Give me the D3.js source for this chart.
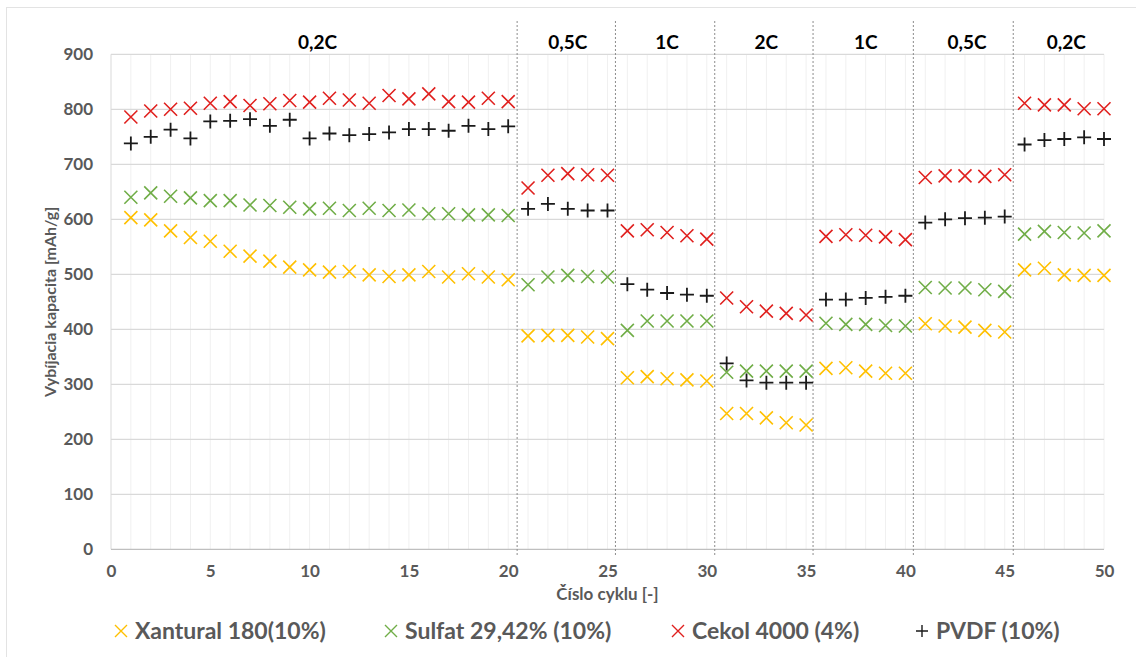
<!DOCTYPE html>
<html lang="sk">
<head>
<meta charset="UTF-8"/>
<title>Vybíjacia kapacita</title>
<script src="https://d3js.org/d3.v7.min.js"></script>
<style>
    body { margin: 0; background: #fff; }
    text { font-family: Lato, "Open Sans", sans-serif; font-weight: bold; }
</style>
</head>
<body>
<script>
// cycle numbers
var cycles = [1, 2, 3, 4, 5, 6, 7, 8, 9, 10, 11, 12, 13, 14, 15, 16, 17, 18, 19, 20,
    21, 22, 23, 24, 25, 26, 27, 28, 29, 30, 31, 32, 33, 34, 35, 36, 37, 38, 39, 40,
    41, 42, 43, 44, 45, 46, 47, 48, 49, 50];

// discharge capacity [mAh/g]
var xantural = [603, 599, 579, 567, 560, 542, 533, 524, 513, 508, 504, 505, 499, 496, 499, 505, 495, 501, 495, 490,
    388, 389, 389, 386, 383, 312, 314, 310, 308, 306, 247, 247, 239, 230, 226,
    329, 330, 324, 320, 320, 410, 406, 404, 398, 395, 508, 511, 499, 498, 498];
var sulfat = [640, 648, 642, 639, 634, 634, 626, 625, 622, 619, 620, 616, 620, 616, 617, 610, 610, 608, 608, 607,
    481, 495, 498, 496, 495, 398, 415, 415, 415, 415, 322, 324, 324, 324, 324,
    411, 409, 409, 407, 406, 476, 475, 475, 472, 469, 573, 578, 576, 575, 579];
var cekol = [786, 797, 800, 802, 811, 814, 807, 810, 816, 813, 820, 817, 811, 825, 819, 828, 814, 813, 820, 814,
    657, 680, 683, 681, 680, 579, 581, 576, 570, 564, 457, 441, 433, 429, 426,
    569, 572, 571, 568, 563, 676, 679, 679, 678, 681, 811, 808, 808, 801, 801];
var pvdf = [738, 750, 763, 747, 778, 779, 782, 770, 781, 747, 756, 753, 755, 758, 764, 764, 761, 770, 764, 769,
    619, 628, 619, 616, 616, 482, 472, 466, 463, 461, 338, 307, 303, 303, 303,
    454, 454, 457, 459, 461, 594, 600, 602, 603, 605, 736, 744, 746, 749, 746];

var seriesNames = ["Xantural 180(10%)", "Sulfat 29,42% (10%)", "Cekol 4000 (4%)", "PVDF (10%)"];
var seriesValues = [xantural, sulfat, cekol, pvdf];
var seriesColors = ["#ffc000", "#70ad47", "#e0201e", "#1a1a1a"];
var seriesMarks = ["x", "x", "x", "+"];

// C-rate sections
var rateLabels = ["0,2C", "0,5C", "1C", "2C", "1C", "0,5C", "0,2C"];
var rateLabelX = [10.4, 23.0, 28.0, 33.0, 38.0, 43.1, 48.1];
var rateBreaks = [20.45, 25.4, 30.4, 35.35, 40.4, 45.43];

var yTicks = [0, 100, 200, 300, 400, 500, 600, 700, 800, 900];
var xTicks = [0, 5, 10, 15, 20, 25, 30, 35, 40, 45, 50];

var w = 1136;
var h = 657;
var plotLeft = 111, plotRight = 1104, plotTop = 54.3, plotBottom = 549.3;

var xScale = d3.scaleLinear().domain([0, 50]).range([plotLeft, plotRight]);
var yScale = d3.scaleLinear().domain([0, 900]).range([plotBottom, plotTop]);

var svg = d3.select("body")
    .append("svg")
    .attr("width", w)
    .attr("height", h);

// outer frame
svg.append("rect")
    .attr("x", 6.5).attr("y", 7.5)
    .attr("width", w - 6).attr("height", h - 6)
    .attr("fill", "none")
    .attr("stroke", "#e3e3e3");

// light vertical grid, one per cycle
svg.append("g")
    .selectAll("line")
    .data(d3.range(0, 51))
    .enter()
    .append("line")
    .attr("x1", function (d) { return xScale(d); })
    .attr("x2", function (d) { return xScale(d); })
    .attr("y1", plotTop)
    .attr("y2", plotBottom)
    .attr("stroke", function (d) { return d === 0 ? "#d9d9d9" : "#f0f0f0"; })
    .attr("stroke-width", 1);

// horizontal grid
svg.append("g")
    .selectAll("line")
    .data(yTicks)
    .enter()
    .append("line")
    .attr("x1", plotLeft)
    .attr("x2", plotRight)
    .attr("y1", function (d) { return yScale(d); })
    .attr("y2", function (d) { return yScale(d); })
    .attr("stroke", function (d) { return d === 0 ? "#bfbfbf" : "#d9d9d9"; })
    .attr("stroke-width", 1.2);

// dotted separators between rates
svg.append("g")
    .selectAll("line")
    .data(rateBreaks)
    .enter()
    .append("line")
    .attr("x1", function (d) { return xScale(d); })
    .attr("x2", function (d) { return xScale(d); })
    .attr("y1", 21)
    .attr("y2", plotBottom + 6)
    .attr("stroke", "#8c8c8c")
    .attr("stroke-width", 1)
    .attr("stroke-dasharray", "2,2");

// rate labels
svg.append("g")
    .selectAll("text")
    .data(rateLabels)
    .enter()
    .append("text")
    .text(function (d) { return d; })
    .attr("x", function (d, i) { return xScale(rateLabelX[i]); })
    .attr("y", 49)
    .attr("text-anchor", "middle")
    .attr("font-size", "19px")
    .attr("fill", "#000");

// axes
var yAxis = svg.append("g")
    .attr("transform", "translate(" + plotLeft + ",0)")
    .call(d3.axisLeft(yScale).tickValues(yTicks).tickSize(0).tickPadding(18));
var xAxis = svg.append("g")
    .attr("transform", "translate(0," + plotBottom + ")")
    .call(d3.axisBottom(xScale).tickValues(xTicks).tickSize(0).tickPadding(16));
yAxis.select(".domain").remove();
xAxis.select(".domain").remove();
svg.selectAll(".tick text")
    .attr("font-family", "Lato, sans-serif")
    .attr("font-size", "17px")
    .attr("font-weight", "bold")
    .attr("fill", "#595959");

// axis titles
svg.append("text")
    .text("Vybíjacia kapacita [mAh/g]")
    .attr("transform", "translate(56," + ((plotTop + plotBottom) / 2) + ") rotate(-90)")
    .attr("text-anchor", "middle")
    .attr("font-size", "16px")
    .attr("fill", "#595959");
svg.append("text")
    .text("Číslo cyklu [-]")
    .attr("x", (plotLeft + plotRight) / 2)
    .attr("y", 600)
    .attr("text-anchor", "middle")
    .attr("font-size", "17px")
    .attr("fill", "#595959");

function markPath(type, s) {
    if (type === "+") {
        return "M" + (-s) + ",0L" + s + ",0M0," + (-s) + "L0," + s;
    }
    return "M" + (-s) + "," + (-s) + "L" + s + "," + s + "M" + (-s) + "," + s + "L" + s + "," + (-s);
}

// points
seriesValues.forEach(function (vals, si) {
    svg.append("g")
        .selectAll("path")
        .data(vals)
        .enter()
        .append("path")
        .attr("d", markPath(seriesMarks[si], seriesMarks[si] === "+" ? 7 : 6.5))
        .attr("transform", function (d, i) {
            return "translate(" + xScale(cycles[i]) + "," + yScale(d) + ")";
        })
        .attr("fill", "none")
        .attr("stroke", seriesColors[si])
        .attr("stroke-width", seriesMarks[si] === "+" ? 1.8 : 1.6);
});

// legend
var legendX = [121, 391, 678, 922];
var legend = svg.append("g")
    .selectAll("g")
    .data(seriesNames)
    .enter()
    .append("g")
    .attr("transform", function (d, i) { return "translate(" + legendX[i] + ",631)"; });
legend.append("path")
    .attr("d", function (d, i) { return markPath(seriesMarks[i], 6); })
    .attr("fill", "none")
    .attr("stroke", function (d, i) { return seriesColors[i]; })
    .attr("stroke-width", 1.4);
legend.append("text")
    .text(function (d) { return d; })
    .attr("x", 14)
    .attr("y", 8)
    .attr("font-size", "23px")
    .attr("fill", "#595959");
</script>
</body>
</html>
